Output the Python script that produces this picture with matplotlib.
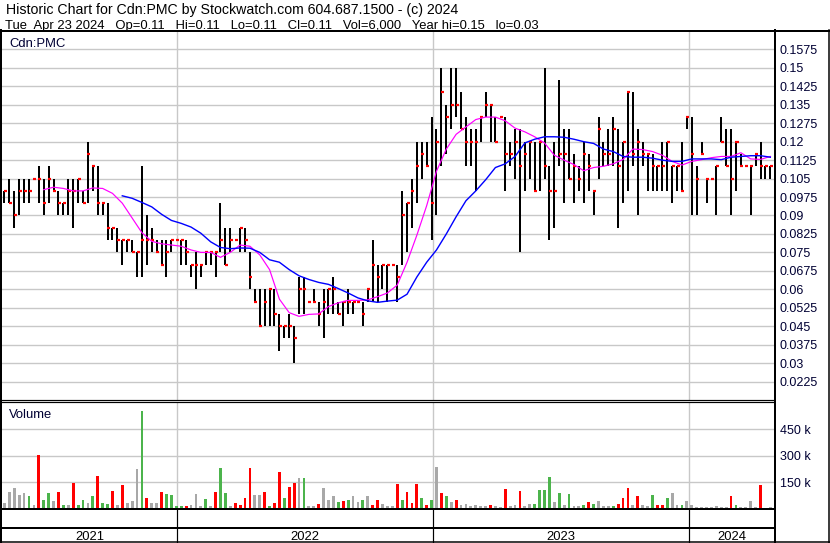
import matplotlib
matplotlib.use('Agg')
import matplotlib.pyplot as plt
import matplotlib.dates as mdates
import matplotlib.transforms as mtransforms
from matplotlib.lines import Line2D
import numpy as np
import pandas as pd
from datetime import datetime

plt.rcParams['font.family'] = ['Liberation Sans', 'DejaVu Sans']

# ---------------- data (weekly) ----------------
dates = pd.date_range('2021-04-30', periods=157, freq='7D')

highs = [0.10, 0.105, 0.10, 0.105, 0.105, 0.105, 0.105, 0.11, 0.105, 0.11,
         0.105, 0.10, 0.095, 0.105, 0.105, 0.105, 0.10, 0.12, 0.11, 0.11,
         0.095, 0.095, 0.085, 0.085, 0.08, 0.08, 0.08, 0.075, 0.11, 0.09,
         0.085, 0.08, 0.08, 0.08, 0.08, 0.08, 0.08, 0.08, 0.07, 0.075,
         0.07, 0.075, 0.075, 0.075, 0.095, 0.085, 0.085, 0.08, 0.085, 0.085,
         0.075, 0.06, 0.06, 0.06, 0.06, 0.06, 0.05, 0.045, 0.05, 0.045,
         0.065, 0.065, 0.055, 0.06, 0.055, 0.06, 0.06, 0.065, 0.055, 0.055,
         0.06, 0.055, 0.055, 0.055, 0.06, 0.08, 0.07, 0.07, 0.07, 0.07,
         0.07, 0.10, 0.095, 0.105, 0.12, 0.12, 0.12, 0.13, 0.125, 0.15,
         0.135, 0.15, 0.15, 0.14, 0.13, 0.125, 0.125, 0.13, 0.14, 0.135,
         0.13, 0.13, 0.13, 0.12, 0.125, 0.125, 0.12, 0.12, 0.12, 0.12,
         0.15, 0.11, 0.12, 0.145, 0.125, 0.125, 0.115, 0.11, 0.12, 0.115,
         0.10, 0.13, 0.12, 0.125, 0.13, 0.125, 0.12, 0.14, 0.14, 0.125,
         0.12, 0.115, 0.115, 0.11, 0.12, 0.12, 0.11, 0.11, 0.12, 0.13,
         0.13, 0.11, 0.12, 0.105, 0.105, 0.11, 0.13, 0.125, 0.125, 0.12,
         0.115, 0.11, 0.11, 0.115, 0.12, 0.11, 0.11]
lows = [0.095, 0.095, 0.085, 0.09, 0.095, 0.095, 0.105, 0.095, 0.09, 0.095,
        0.10, 0.09, 0.09, 0.09, 0.085, 0.095, 0.095, 0.095, 0.10, 0.09,
        0.09, 0.08, 0.08, 0.075, 0.07, 0.075, 0.075, 0.065, 0.065, 0.07,
        0.075, 0.075, 0.07, 0.065, 0.075, 0.08, 0.07, 0.07, 0.065, 0.06,
        0.065, 0.07, 0.07, 0.065, 0.075, 0.07, 0.075, 0.08, 0.075, 0.075,
        0.06, 0.055, 0.045, 0.045, 0.045, 0.045, 0.035, 0.04, 0.04, 0.03,
        0.05, 0.05, 0.055, 0.055, 0.045, 0.04, 0.05, 0.05, 0.05, 0.045,
        0.05, 0.05, 0.055, 0.045, 0.055, 0.055, 0.055, 0.06, 0.055, 0.07,
        0.055, 0.07, 0.075, 0.085, 0.095, 0.105, 0.11, 0.08, 0.09, 0.11,
        0.115, 0.125, 0.13, 0.125, 0.11, 0.11, 0.10, 0.12, 0.13, 0.12,
        0.12, 0.13, 0.10, 0.11, 0.105, 0.075, 0.10, 0.105, 0.10, 0.10,
        0.105, 0.08, 0.085, 0.11, 0.095, 0.105, 0.095, 0.10, 0.095, 0.10,
        0.09, 0.105, 0.11, 0.11, 0.11, 0.085, 0.095, 0.10, 0.11, 0.09,
        0.11, 0.10, 0.10, 0.10, 0.10, 0.10, 0.095, 0.10, 0.10, 0.125,
        0.09, 0.09, 0.115, 0.095, 0.105, 0.09, 0.12, 0.11, 0.09, 0.10,
        0.11, 0.11, 0.09, 0.11, 0.105, 0.105, 0.105]
closes = [0.10, 0.095, 0.09, 0.10, 0.10, 0.10, 0.105, 0.105, 0.095, 0.105,
          0.10, 0.095, 0.095, 0.10, 0.10, 0.105, 0.095, 0.115, 0.11, 0.095,
          0.095, 0.085, 0.085, 0.08, 0.08, 0.08, 0.075, 0.075, 0.08, 0.08,
          0.08, 0.075, 0.07, 0.075, 0.08, 0.08, 0.08, 0.075, 0.07, 0.07,
          0.07, 0.075, 0.075, 0.075, 0.08, 0.07, 0.08, 0.08, 0.085, 0.08,
          0.065, 0.055, 0.045, 0.055, 0.06, 0.05, 0.045, 0.045, 0.045, 0.04,
          0.06, 0.06, 0.055, 0.055, 0.05, 0.055, 0.06, 0.06, 0.05, 0.055,
          0.055, 0.055, 0.055, 0.05, 0.06, 0.07, 0.065, 0.07, 0.07, 0.07,
          0.065, 0.09, 0.095, 0.10, 0.11, 0.115, 0.11, 0.095, 0.12, 0.14,
          0.13, 0.135, 0.135, 0.125, 0.12, 0.12, 0.12, 0.13, 0.135, 0.135,
          0.12, 0.13, 0.115, 0.115, 0.12, 0.11, 0.115, 0.12, 0.10, 0.12,
          0.11, 0.10, 0.10, 0.115, 0.115, 0.105, 0.11, 0.105, 0.115, 0.11,
          0.10, 0.125, 0.115, 0.115, 0.125, 0.11, 0.12, 0.14, 0.115, 0.12,
          0.115, 0.115, 0.11, 0.11, 0.11, 0.12, 0.11, 0.11, 0.10, 0.13,
          0.115, 0.105, 0.115, 0.105, 0.105, 0.11, 0.12, 0.11, 0.105, 0.12,
          0.11, 0.11, 0.11, 0.115, 0.11, 0.11, 0.11]

volumes_k = [30, 95, 115, 78, 87, 68, 22, 303, 50, 90,
             40, 95, 22, 22, 145, 20, 50, 30, 72, 185,
             32, 28, 100, 20, 135, 32, 40, 225, 553, 60,
             32, 32, 96, 83, 74, 15, 13, 13, 20, 83,
             15, 55, 15, 92, 230, 88, 13, 31, 20, 59,
             230, 78, 78, 96, 13, 31, 207, 59, 124, 145,
             170, 170, 15, 15, 28, 115, 50, 68, 35, 41,
             50, 72, 35, 46, 72, 22, 46, 28, 15, 12,
             137, 46, 96, 31, 139, 59, 22, 50, 235, 90,
             72, 35, 46, 22, 28, 15, 22, 15, 12, 22,
             12, 10, 113, 15, 20, 100, 13, 28, 28, 105,
             105, 180, 35, 87, 20, 83, 15, 12, 22, 35,
             28, 41, 15, 13, 15, 28, 59, 118, 22, 68,
             20, 15, 74, 22, 22, 59, 90, 22, 22, 44,
             22, 10, 10, 8, 8, 13, 10, 10, 68, 22,
             10, 10, 44, 10, 133, 5, 8]
# u = up (green), d = down (red), n = unchanged (grey)
volume_direction = list(
    "nnnnnunduu" "ndunduunud" "uudndnnnud" "nnduuuudnn"
    "nunduunddd" "dnnduddudd" "nunndnnnud" "unnunddnnn"
    "dudddudund" "undnnnnnnd" "nndnndnnuu" "uunununnud"
    "unnnudddnd" "nnuddunnun" "nnnnnnnndu" "nnnndnnnd" "d"
)

# moving averages, every second week
ma_short_first = 8
ma_short = [0.1005, 0.1015, 0.101, 0.100, 0.100, 0.1012, 0.101, 0.099, 0.095, 0.089,
            0.083, 0.0795, 0.0785, 0.078, 0.0775, 0.076, 0.075, 0.075, 0.073, 0.075,
            0.078, 0.0775, 0.074, 0.068, 0.056, 0.0505, 0.049, 0.0498, 0.050, 0.053,
            0.0545, 0.0555, 0.0555, 0.0557, 0.057, 0.0585, 0.0617, 0.071, 0.082, 0.094,
            0.108, 0.117, 0.123, 0.126, 0.129, 0.130, 0.130, 0.1285, 0.1255, 0.124,
            0.122, 0.1195, 0.1145, 0.1125, 0.1107, 0.1082, 0.1095, 0.110, 0.111, 0.1128,
            0.117, 0.1168, 0.116, 0.1145, 0.112, 0.1105, 0.112, 0.1127, 0.1135, 0.114,
            0.114, 0.1155, 0.113, 0.1128, 0.114]
ma_long_first = 24
ma_long = [0.098, 0.097, 0.0953, 0.0935, 0.0905, 0.088, 0.0868, 0.0853, 0.0828, 0.0793,
           0.077, 0.0765, 0.0768, 0.0767, 0.075, 0.072, 0.071, 0.068, 0.0655, 0.064,
           0.0628, 0.062, 0.0603, 0.0585, 0.0565, 0.0553, 0.0547, 0.0552, 0.0556, 0.058,
           0.065, 0.071, 0.076, 0.0825, 0.0895, 0.096, 0.100, 0.1045, 0.1095, 0.111,
           0.114, 0.1195, 0.121, 0.122, 0.122, 0.1218, 0.121, 0.120, 0.1193, 0.117,
           0.116, 0.114, 0.1137, 0.1137, 0.1133, 0.1125, 0.112, 0.112, 0.113, 0.113,
           0.113, 0.1127, 0.1137, 0.114, 0.1143, 0.1143, 0.1137]

price_ticks = [0.0225, 0.03, 0.0375, 0.045, 0.0525, 0.06, 0.0675, 0.075, 0.0825, 0.09,
               0.0975, 0.105, 0.1125, 0.12, 0.1275, 0.135, 0.1425, 0.15, 0.1575]
price_tick_labels = ['0.0225', '0.03', '0.0375', '0.045', '0.0525', '0.06', '0.0675',
                     '0.075', '0.0825', '0.09', '0.0975', '0.105', '0.1125', '0.12',
                     '0.1275', '0.135', '0.1425', '0.15', '0.1575']
volume_ticks = [150000, 300000, 450000]
volume_tick_labels = ['150 k', '300 k', '450 k']
years = [2021, 2022, 2023, 2024]

header_1 = "Historic Chart for Cdn:PMC by Stockwatch.com 604.687.1500 - (c) 2024"
header_2 = ("Tue  Apr 23 2024   Op=0.11   Hi=0.11   Lo=0.11   Cl=0.11   "
            "Vol=6,000   Year hi=0.15   lo=0.03")

# ---------------- layout helpers (pixel -> figure fraction) ----------------
W, H = 830, 543
def fx(x):
    return x / W
def fy(y):
    return 1 - y / H

fig = plt.figure(figsize=(W / 100, H / 100), dpi=100)
fig.patch.set_facecolor('white')

dn = mdates.date2num(dates.to_pydatetime())
x_left = mdates.date2num(datetime(2021, 4, 26, 12))
x_right = mdates.date2num(datetime(2024, 5, 1, 5))
year_starts = [mdates.date2num(datetime(y, 1, 1)) for y in years[1:]]

GRID = '#c8c8c8'
LABEL = '#000033'
PX = 0.72  # one pixel in points

# ---------------- price panel ----------------
ax = fig.add_axes([fx(2), fy(400), fx(774) - fx(2), (400 - 32) / H])
ax.set_xlim(x_left, x_right)
ax.set_ylim(0.0150, 0.16459)
for s in ax.spines.values():
    s.set_visible(False)
ax.set_yticks(price_ticks)
ax.set_yticklabels(price_tick_labels)
ax.yaxis.tick_right()
ax.tick_params(axis='y', length=0, pad=4, labelsize=9, labelcolor=LABEL)
ax.set_xticks(year_starts)
ax.tick_params(axis='x', length=0, labelbottom=False)
ax.grid(True, color=GRID, lw=1.4 * PX)
ax.set_axisbelow(True)

ax.vlines(dn, lows, highs, color='black', lw=2 * PX)
ax.hlines(closes, dn - 0.7, dn + 3.6, color='#ff0000', lw=2.2 * PX)
ax.plot(dn[ma_short_first::2], ma_short, color='#ff00ff', lw=1.2 * PX)
ax.plot(dn[ma_long_first::2], ma_long, color='#0000ff', lw=1.4 * PX)

# ---------------- volume panel ----------------
vax = fig.add_axes([fx(2), fy(508.5), fx(774) - fx(2), (508.5 - 402) / H])
vax.set_xlim(x_left, x_right)
vax.set_ylim(0, 603000)
for s in vax.spines.values():
    s.set_visible(False)
vax.set_yticks(volume_ticks)
vax.set_yticklabels(volume_tick_labels)
vax.yaxis.tick_right()
vax.tick_params(axis='y', length=0, pad=4, labelsize=9, labelcolor=LABEL)
vax.set_xticks(year_starts)
vax.tick_params(axis='x', length=0, labelbottom=False)
vax.grid(True, color=GRID, lw=1.4 * PX)
vax.set_axisbelow(True)
colour_of = {'u': '#4cb44c', 'd': '#ff0000', 'n': '#a8a8a8'}
vcolors = [colour_of[c] for c in volume_direction]
vax.bar(dn, [v * 1000 for v in volumes_k], width=4.0, color=vcolors, linewidth=0)

# ---------------- texts ----------------
fig.text(fx(6), fy(14), header_1, fontsize=10.2, va='baseline', color='black')
fig.text(fx(5), fy(28.5), header_2, fontsize=9.4, va='baseline', color='black')
fig.text(fx(9), fy(46.5), 'Cdn:PMC', fontsize=9.4, va='baseline', color=LABEL)
fig.text(fx(9), fy(417.5), 'Volume', fontsize=9.4, va='baseline', color=LABEL)

blend = mtransforms.blended_transform_factory(ax.transData, fig.transFigure)
bounds = [x_left] + year_starts + [x_right]
for k, y in enumerate(years):
    xc = (bounds[k] + bounds[k + 1]) / 2
    fig.text(xc, fy(540), str(y), transform=blend, ha='center', va='baseline',
             fontsize=9.4, color='black')
for xs in year_starts:
    fig.add_artist(Line2D([xs, xs], [fy(509), fy(542)], transform=blend,
                          color='black', lw=1.2 * PX))

# ---------------- frame ----------------
def hline(y, x0, x1, w):
    fig.add_artist(Line2D([fx(x0), fx(x1)], [fy(y), fy(y)], color='black', lw=w * PX))
def vline(x, y0, y1, w):
    fig.add_artist(Line2D([fx(x), fx(x)], [fy(y0), fy(y1)], color='black', lw=w * PX))

hline(30.5, 0, 830, 2)
hline(400.3, 0, 774, 1.2)
hline(402.2, 0, 774, 1.2)
hline(509.2, 0, 774, 2)
hline(527.5, 0, 774, 2)
hline(542, 0, 830, 1.5)
vline(1, 30, 543, 2)
vline(774.5, 30, 543, 2)
vline(828.5, 30, 543, 1.5)

fig.savefig('out.png', dpi=100, facecolor='white')
